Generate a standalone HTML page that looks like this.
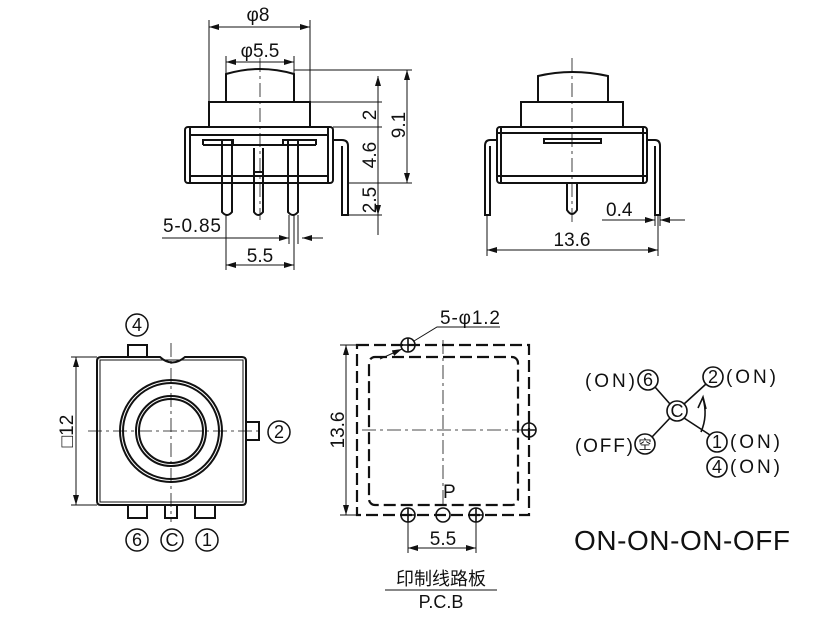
<!DOCTYPE html>
<html><head><meta charset="utf-8"><style>body{margin:0;background:#fff}svg{display:block}text{font-family:"Liberation Sans","Noto Sans CJK SC",sans-serif;fill:#111}</style></head><body>
<svg width="830" height="622" viewBox="0 0 830 622" xmlns="http://www.w3.org/2000/svg">
<defs><marker id="a" viewBox="0 0 10 6" refX="10" refY="3" markerWidth="10" markerHeight="6" orient="auto-start-reverse" markerUnits="userSpaceOnUse"><path d="M0,0L10,3L0,6z" fill="#111"/></marker></defs>
<g stroke="#111" fill="none" stroke-width="2">
<path d="M226,102V74Q260,64 294,74V102"/><rect x="209" y="102" width="101" height="25"/>
<rect x="185" y="127" width="148" height="56" rx="3"/><path d="M190,135H328M190,176H328M190,127V183M328,127V183"/>
<path d="M203,145V140H233V145M283,145V140H316V145M203,145H316"/>
<path d="M222,140V212Q227,218 232,212V140M288,140V212Q293,218 298,212V140M254,148V212Q258,218 263,212V148"/>
<path d="M254,172H263"/>
<path d="M333,140H342Q348,140 348,146V215H342V146"/>
<path d="M538,102V76Q572,68 608,76V102"/><rect x="521" y="102" width="102" height="25"/>
<rect x="497" y="127" width="150" height="56" rx="3"/><path d="M501,127V183M643,127V183M497,133H647M497,176H647"/>
<rect x="544" y="139" width="57" height="4"/>
<path d="M497,140H490Q485,140 485,146V215H490V146M647,140H655Q660,140 660,146V215H655V146"/>
<path d="M567,183V210Q572,218 577,210V183"/>
<path d="M101,357H160Q172,368 185,357H242Q246,357 246,361V501Q246,505 242,505H101Q97,505 97,501V361Q97,357 101,357Z"/>
<path d="M100,360H243V502H100Z" stroke-width="1"/>
<circle cx="171" cy="431" r="51"/><circle cx="171" cy="431" r="48"/><circle cx="171" cy="431" r="35"/><circle cx="171" cy="431" r="32"/>
<rect x="128" y="345" width="19" height="12"/><rect x="246" y="422" width="13" height="18"/>
<rect x="128" y="505" width="19" height="13"/><rect x="165" y="505" width="12" height="13"/><rect x="195" y="505" width="20" height="13"/>
<g stroke-dasharray="12,5" stroke-width="2.2"><rect x="357" y="345" width="172" height="170"/><rect x="369" y="357" width="149" height="148" rx="6"/></g>
<g stroke-width="1.6"><circle cx="408" cy="345" r="7"/><circle cx="529" cy="430" r="7"/><circle cx="408" cy="515" r="7"/><circle cx="443" cy="515" r="7"/><circle cx="476" cy="515" r="7"/>
<path d="M401,345H415M408,338V352M522,430H536M529,423V437M401,515H415M408,508V522M469,515H483M476,508V522"/></g>
<g stroke-width="1.6"><circle cx="677" cy="411" r="10"/><circle cx="648" cy="380" r="10"/><circle cx="713" cy="377" r="10"/><circle cx="645" cy="444" r="10"/><circle cx="717" cy="442" r="10"/><circle cx="717" cy="467" r="10"/>
<path d="M655,387L670,404M706,384L684,404M652,437L670,418M710,435L684,418M701,432Q708,416 703,398"/><path d="M698,408L703,397L706,409"/></g>
</g>
<g stroke="#111" fill="none" stroke-width="1">
<path d="M209,20V102M310,20V102M226,56V74M294,56V74" />
<path d="M209,27H310" marker-start="url(#a)" marker-end="url(#a)"/><path d="M226,62H294" marker-start="url(#a)" marker-end="url(#a)"/>
<path d="M294,70H412M310,102H382M333,127H382M348,183H412M348,215H382"/>
<path d="M378,76V102M378,102V127M378,127V183M378,183V215" marker-start="url(#a)" marker-end="url(#a)"/>
<path d="M407,70V183" marker-start="url(#a)" marker-end="url(#a)"/>
<path d="M378,215V235"/>
<path d="M162,238H289M302,238H323"/><path d="M275,238H289" marker-end="url(#a)"/><path d="M316,238H302" marker-end="url(#a)"/>
<path d="M289,215V244M298,215V244M226,215V270M294,215V270"/>
<path d="M226,265H294" marker-start="url(#a)" marker-end="url(#a)"/>
<path d="M487,215V256M658,215V256M655,215V226M660,215V226"/>
<path d="M487,250H658" marker-start="url(#a)" marker-end="url(#a)"/>
<path d="M602,220H655M660,220H685"/><path d="M640,220H655" marker-end="url(#a)"/><path d="M675,220H660" marker-end="url(#a)"/>
<path d="M71,357H97M71,505H97"/><path d="M76,357V505" marker-start="url(#a)" marker-end="url(#a)"/>
<path d="M340,345H357M340,515H357"/><path d="M346,345V515" marker-start="url(#a)" marker-end="url(#a)"/>
<path d="M408,522V553M476,522V553"/><path d="M408,548H476" marker-start="url(#a)" marker-end="url(#a)"/>
<path d="M500,327H437L414,341" /><path d="M380,359L402,349" marker-end="url(#a)"/>
<path d="M385,590H497"/>
</g>
<g stroke="#111" fill="none" stroke-width="0.8" stroke-dasharray="14,4,3,4">
<path d="M260,58V220M572,58V225M171,343V522M88,431H262M443,340V508M362,430H525"/>
</g>
<g font-size="19">
<text x="258" y="21" text-anchor="middle">φ8</text><text x="260" y="57" text-anchor="middle">φ5.5</text>
<text x="163" y="232" textLength="58">5-0.85</text><text x="260" y="262" text-anchor="middle">5.5</text>
<text transform="translate(376,115) rotate(-90)" text-anchor="middle">2</text>
<text transform="translate(376,155) rotate(-90)" text-anchor="middle">4.6</text>
<text transform="translate(376,200) rotate(-90)" text-anchor="middle">2.5</text>
<text transform="translate(405,125) rotate(-90)" text-anchor="middle">9.1</text>
<text x="572" y="246" text-anchor="middle">13.6</text><text x="606" y="216">0.4</text>
<text transform="translate(73,431) rotate(-90)" text-anchor="middle">□12</text>
<text transform="translate(344,430) rotate(-90)" text-anchor="middle">13.6</text>
<text x="440" y="324" textLength="60">5-φ1.2</text><text x="443" y="498">P</text><text x="443" y="545" text-anchor="middle">5.5</text>
<text x="441" y="585" text-anchor="middle" font-size="18">印制线路板</text><text x="441" y="608" text-anchor="middle" font-size="18">P.C.B</text>
<g text-anchor="middle" font-size="18"><text x="137" y="331">4</text><text x="279" y="438">2</text><text x="137" y="546">6</text><text x="172" y="546">C</text><text x="207" y="546">1</text>
<text x="648" y="386">6</text><text x="713" y="383">2</text><text x="677" y="417">C</text><text x="645" y="449" font-size="13">空</text><text x="717" y="448">1</text><text x="717" y="473">4</text></g>
<g font-size="19"><text x="585" y="387" textLength="50">(ON)</text><text x="726" y="383" textLength="50">(ON)</text><text x="575" y="452" textLength="58">(OFF)</text><text x="730" y="448" textLength="50">(ON)</text><text x="730" y="473" textLength="50">(ON)</text></g>
<text x="574" y="550" font-size="28" textLength="216">ON-ON-ON-OFF</text>
</g>
<g fill="none" stroke="#111" stroke-width="1.5"><circle cx="137" cy="325" r="11"/><circle cx="279" cy="432" r="11"/><circle cx="137" cy="540" r="11"/><circle cx="172" cy="540" r="11"/><circle cx="207" cy="540" r="11"/></g>
</svg>
</body></html>
